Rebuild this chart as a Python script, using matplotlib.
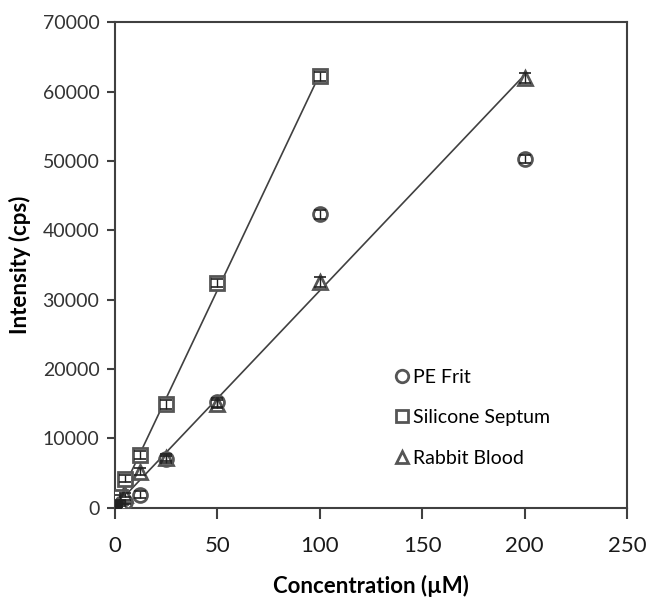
import numpy as np
import matplotlib
matplotlib.use("Agg")
import matplotlib.pyplot as plt
from matplotlib.lines import Line2D

plt.rcParams['font.family'] = ['Lato', 'DejaVu Sans']

# Data
conc_pe = [0.5, 1, 2.5, 5, 12.5, 25, 50, 100, 200]
pe_frit = [100, 200, 500, 900, 1900, 7000, 15200, 42300, 50300]
pe_err = [150, 150, 200, 300, 500, 500, 600, 600, 600]

conc_si = [0.5, 1, 2.5, 5, 12.5, 25, 50, 100]
silicone = [300, 700, 1500, 4200, 7600, 14900, 32400, 62200]
si_err = [150, 200, 300, 500, 600, 600, 600, 600]

conc_rb = [0.5, 1, 2.5, 5, 12.5, 25, 50, 100, 200]
rabbit = [150, 300, 800, 1800, 5200, 7200, 15000, 32600, 62000]
rb_err = [150, 150, 200, 300, 500, 500, 600, 700, 700]

labels = ["PE Frit", "Silicone Septum", "Rabbit Blood"]
xticks = [0, 50, 100, 150, 200, 250]
yticks = [0, 10000, 20000, 30000, 40000, 50000, 60000, 70000]

gray = '#404040'
medge = '#555555'
fig = plt.figure(figsize=(6.52, 6.01), dpi=100)
ax = fig.add_axes([0.176, 0.155, 0.786, 0.808])

# trend lines
for xs, ys in [(conc_si, silicone), (conc_rb, rabbit)]:
    m, b = np.polyfit(xs, ys, 1)
    xx = np.array([0, max(xs)])
    ax.plot(xx, m * xx + b, color=gray, lw=1.2, zorder=1)

series = [(conc_pe, pe_frit, pe_err, 'o'),
          (conc_si, silicone, si_err, 's'),
          (conc_rb, rabbit, rb_err, '^')]
for (xs, ys, es, m), lab in zip(series, labels):
    ax.plot(xs, ys, marker=m, markersize=10, markerfacecolor='white',
            markeredgecolor=medge, markeredgewidth=2.0, linestyle='none',
            zorder=3, label=lab)
    ax.errorbar(xs, ys, yerr=es, fmt='none', ecolor='#202020',
                elinewidth=1.0, capsize=4, capthick=1.2, zorder=4)

ax.set_xlim(0, 250)
ax.set_ylim(0, 70000)
ax.set_xticks(xticks)
ax.set_yticks(yticks)
ax.tick_params(axis='x', direction='out', length=8, width=1.5, color=gray,
               labelsize=16, pad=12, labelcolor='#1a1a1a')
ax.tick_params(axis='y', direction='out', length=6, width=1.5, color=gray,
               labelsize=14, pad=5, labelcolor='#333333')
for s in ax.spines.values():
    s.set_color(gray)
    s.set_linewidth(1.5)

ax.set_xlabel("Concentration (µM)", fontsize=16, fontweight='bold', labelpad=14)
ax.set_ylabel("Intensity (cps)", fontsize=16, fontweight='bold', labelpad=8)

hs = [Line2D([], [], marker=m, markersize=9, markerfacecolor='white',
             markeredgecolor=medge, markeredgewidth=2, linestyle='none')
      for m in ['o', 's', '^']]
ax.legend(hs, labels, loc='upper left', bbox_to_anchor=(0.527, 0.302),
          frameon=False, fontsize=14, labelspacing=1.2, handletextpad=0.05,
          handlelength=1.0, borderaxespad=0)

fig.savefig("out.png", dpi=100)
